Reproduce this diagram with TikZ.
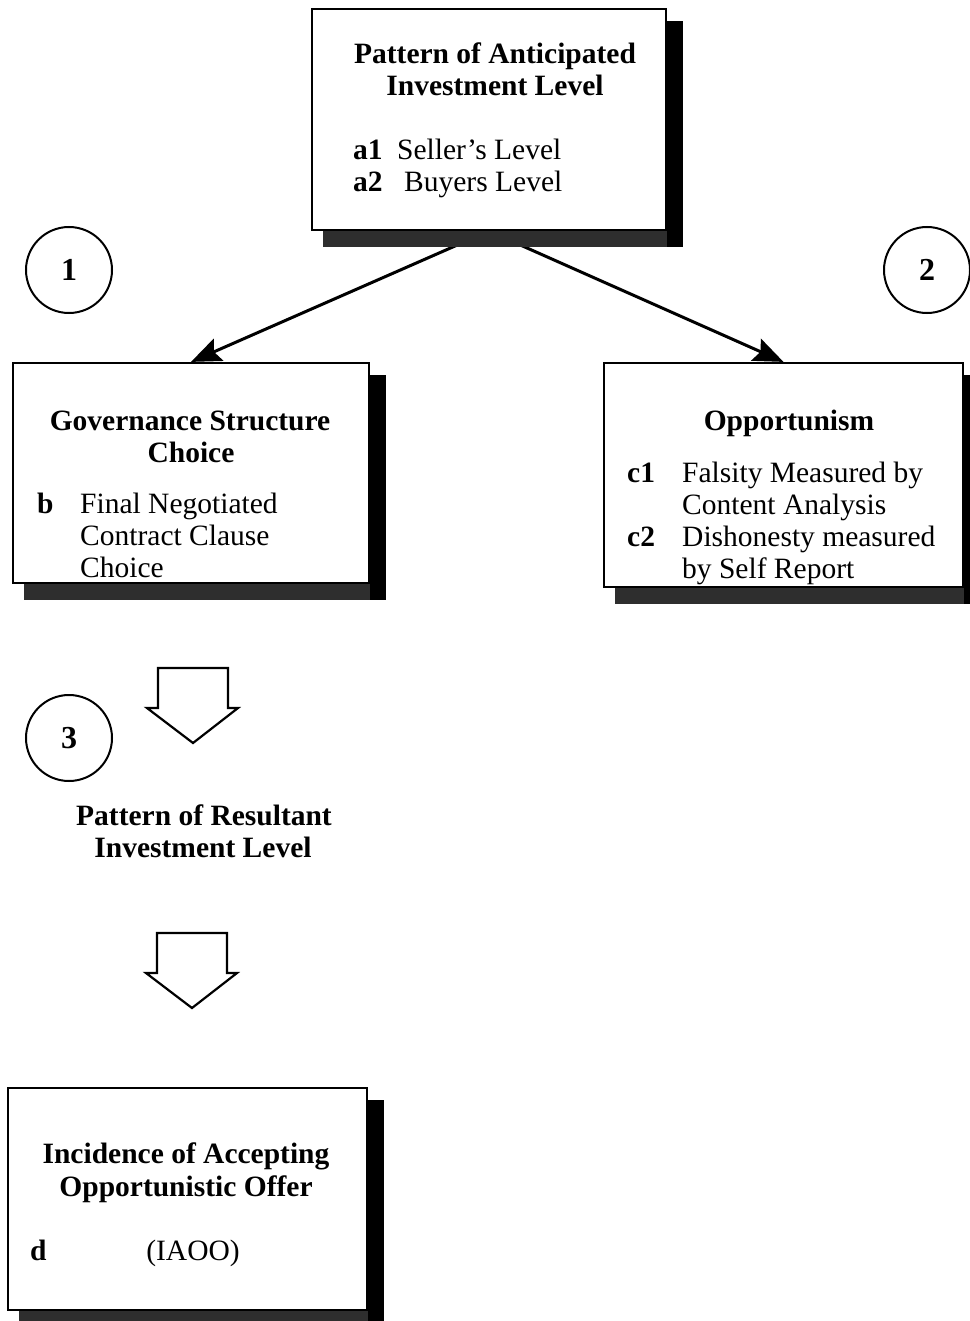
\documentclass[tikz,border=0pt]{standalone}
\usepackage{fontspec}
\setmainfont{Liberation Serif}
\usetikzlibrary{arrows.meta}
\begin{document}
\begin{tikzpicture}[x=1pt,y=-1pt,
  box/.style={draw, line width=2.2pt, fill=white, inner sep=0pt},
  shadowR/.style={fill=black},
  shadowB/.style={fill=black!82},
  ttl/.style={font=\fontsize{29.5}{32}\selectfont\bfseries, anchor=base, inner sep=0pt},
  lbl/.style={font=\fontsize{29.5}{32}\selectfont\bfseries, anchor=base west, inner sep=0pt},
  txt/.style={font=\fontsize{29.5}{32}\selectfont, anchor=base west, inner sep=0pt},
  num/.style={draw, circle, line width=2pt, minimum size=86pt, inner sep=0pt, font=\fontsize{32}{34}\selectfont\bfseries},
  conn/.style={line width=3pt, -{Stealth[length=30pt,width=24pt,inset=5pt]}},
  blockarrow/.style={draw, fill=white, line width=2.2pt, line join=miter}
]
\useasboundingbox (0,0) rectangle (969,1321);

% boxes
\node[box, minimum width=354pt, minimum height=221pt] (top) at (489,119.5) {};
\node[box, minimum width=356pt, minimum height=220pt] (gov) at (191,473) {};
\node[box, minimum width=359pt, minimum height=224pt] (opp) at (783.5,475) {};
\node[box, minimum width=359pt, minimum height=222pt] (inc) at (187.5,1199) {};

% connectors (drawn before shadows so the shadow hides their start)
\draw[conn] (top.south) -- (gov.north);
\draw[conn] (top.south) -- (opp.north);

% shadows
\foreach \b in {top,gov,opp,inc}{
  \fill[shadowR] ([yshift=-13pt]\b.north east) rectangle ([xshift=16pt,yshift=-16pt]\b.south east);
  \fill[shadowB] ([xshift=12pt]\b.south west) rectangle ([yshift=-16pt]\b.south east);
}

% top box text
\node[ttl] (t1) at (495,64) {Pattern of Anticipated};
\node[ttl] (t2) at (495,96) {Investment Level};
\node[lbl] (a1) at (353,160) {a1};
\node[txt] (a1t) at (397,160) {Seller’s Level};
\node[lbl] (a2) at (353,192) {a2};
\node[txt] (a2t) at (404,192) {Buyers Level};

% governance box text
\node[ttl] (g1) at (190,430) {Governance Structure};
\node[ttl] (g2) at (191,462) {Choice};
\node[lbl] (gb) at (37,513) {b};
\node[txt] (gb1) at (80,513) {Final Negotiated};
\node[txt] (gb2) at (80,545) {Contract Clause};
\node[txt] (gb3) at (80,577) {Choice};

% opportunism box text
\node[ttl] (o1) at (789,430) {Opportunism};
\node[lbl] (oc1) at (627,482) {c1};
\node[txt] (oc1t) at (682,482) {Falsity Measured by};
\node[txt] (oc1u) at (682,514) {Content Analysis};
\node[lbl] (oc2) at (627,546) {c2};
\node[txt] (oc2t) at (682,546) {Dishonesty measured};
\node[txt] (oc2u) at (682,578) {by Self Report};

% circles
\node[num] (n1) at (69,270) {1};
\node[num] (n2) at (927,270) {2};
\node[num] (n3) at (69,738) {3};

% block arrows
\draw[blockarrow] (158,668) -- (228,668) -- (228,708) -- (238,708) -- (193,743) -- (147,708) -- (158,708) -- cycle;
\draw[blockarrow] (157,933) -- (227,933) -- (227,973) -- (237,973) -- (192,1008) -- (146,973) -- (157,973) -- cycle;

% resultant
\node[ttl] (r1) at (204,825) {Pattern of Resultant};
\node[ttl] (r2) at (203,857) {Investment Level};

% incidence box text
\node[ttl] (i1) at (186,1163) {Incidence of Accepting};
\node[ttl] (i2) at (186,1196) {Opportunistic Offer};
\node[lbl] (id) at (30,1260) {d};
\node[txt] (iao) at (193,1260) [anchor=base] {(IAOO)};
\end{tikzpicture}
\end{document}
